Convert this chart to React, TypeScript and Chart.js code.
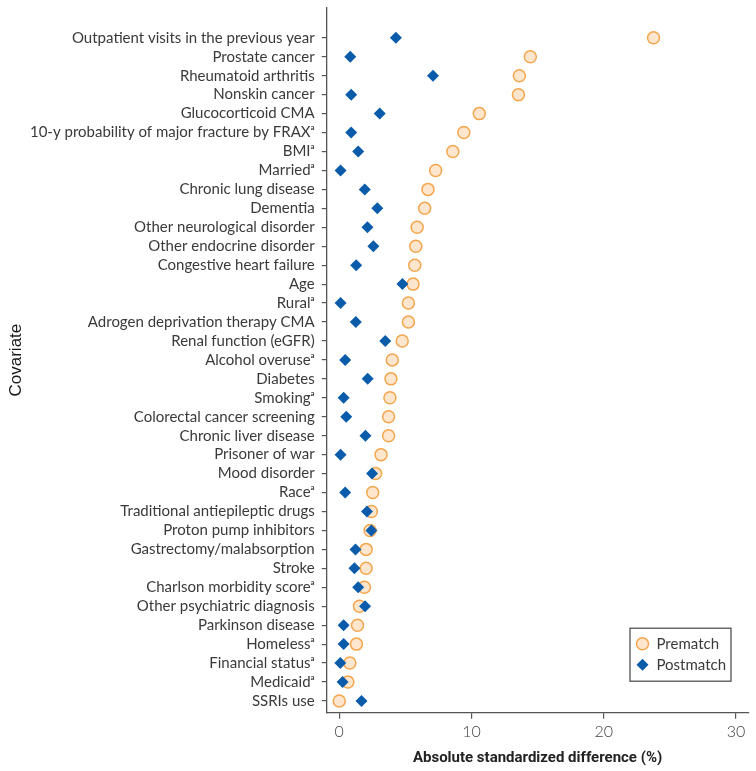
import React, { useEffect, useRef } from 'react';
import { Chart, registerables } from 'chart.js';

Chart.register(...registerables);

const covariates = [
  'Outpatient visits in the previous year',
  'Prostate cancer',
  'Rheumatoid arthritis',
  'Nonskin cancer',
  'Glucocorticoid CMA',
  '10-y probability of major fracture by FRAXᵃ',
  'BMIᵃ',
  'Marriedᵃ',
  'Chronic lung disease',
  'Dementia',
  'Other neurological disorder',
  'Other endocrine disorder',
  'Congestive heart failure',
  'Age',
  'Ruralᵃ',
  'Adrogen deprivation therapy CMA',
  'Renal function (eGFR)',
  'Alcohol overuseᵃ',
  'Diabetes',
  'Smokingᵃ',
  'Colorectal cancer screening',
  'Chronic liver disease',
  'Prisoner of war',
  'Mood disorder',
  'Raceᵃ',
  'Traditional antiepileptic drugs',
  'Proton pump inhibitors',
  'Gastrectomy/malabsorption',
  'Stroke',
  'Charlson morbidity scoreᵃ',
  'Other psychiatric diagnosis',
  'Parkinson disease',
  'Homelessᵃ',
  'Financial statusᵃ',
  'Medicaidᵃ',
  'SSRIs use',
];

const prematch = [
  23.77, 14.45, 13.62, 13.55, 10.59, 9.42, 8.59, 7.29, 6.71, 6.46, 5.89, 5.79,
  5.71, 5.58, 5.23, 5.23, 4.76, 4.01, 3.91, 3.83, 3.73, 3.73, 3.16, 2.75, 2.53,
  2.43, 2.33, 2.03, 2.03, 1.9, 1.53, 1.38, 1.3, 0.8, 0.65, 0.0,
];

const postmatch = [
  4.28, 0.83, 7.09, 0.9, 3.06, 0.9, 1.43, 0.1, 1.93, 2.88, 2.13, 2.58, 1.28,
  4.78, 0.1, 1.25, 3.48, 0.45, 2.15, 0.33, 0.53, 1.98, 0.1, 2.48, 0.45, 2.1,
  2.43, 1.23, 1.15, 1.43, 1.95, 0.33, 0.33, 0.08, 0.25, 1.68,
];

const xTickValues = [0, 10, 20, 30];
const seriesNames = ['Prematch', 'Postmatch'];

const PRE_FILL = '#fde6cd';
const PRE_BORDER = '#f5a64d';
const POST_COLOR = '#0a5caa';
const LABEL_FONT = 'Lato, "Open Sans", sans-serif';

export default function App() {
  const ref = useRef<HTMLCanvasElement>(null);

  useEffect(() => {
    document.body.style.margin = '0';
    const canvas = ref.current;
    if (!canvas) return;

    const legendBox = {
      id: 'legendBox',
      afterDraw(chart: any) {
        const { ctx, chartArea } = chart;
        const w = 101;
        const h = 53;
        const x = chartArea.right - 18 - w;
        const y = chartArea.bottom - 32 - h;
        ctx.save();
        ctx.strokeStyle = '#444';
        ctx.lineWidth = 1.2;
        ctx.strokeRect(x + 0.5, y + 0.5, w, h);
        const mx = x + 13;
        const y1 = y + 16;
        const y2 = y + 37;
        ctx.beginPath();
        ctx.arc(mx, y1, 6, 0, Math.PI * 2);
        ctx.fillStyle = PRE_FILL;
        ctx.fill();
        ctx.lineWidth = 1.5;
        ctx.strokeStyle = PRE_BORDER;
        ctx.stroke();
        const r = 6;
        ctx.beginPath();
        ctx.moveTo(mx, y2 - r);
        ctx.lineTo(mx + r, y2);
        ctx.lineTo(mx, y2 + r);
        ctx.lineTo(mx - r, y2);
        ctx.closePath();
        ctx.fillStyle = POST_COLOR;
        ctx.fill();
        ctx.fillStyle = '#3a3a3a';
        ctx.font = `15px ${LABEL_FONT}`;
        ctx.textBaseline = 'middle';
        ctx.textAlign = 'left';
        ctx.fillText(seriesNames[0], x + 27, y1);
        ctx.fillText(seriesNames[1], x + 27, y2);
        ctx.restore();
      },
    };

    const chart = new Chart(canvas, {
      type: 'scatter',
      data: {
        datasets: [
          {
            label: seriesNames[0],
            data: prematch.map((v, i) => ({ x: v, y: i })),
            pointStyle: 'circle',
            pointRadius: 6,
            pointHoverRadius: 6,
            backgroundColor: PRE_FILL,
            borderColor: PRE_BORDER,
            borderWidth: 1.5,
            order: 1,
          },
          {
            label: seriesNames[1],
            data: postmatch.map((v, i) => ({ x: v, y: i })),
            pointStyle: 'rectRot',
            pointRadius: 6,
            pointHoverRadius: 6,
            backgroundColor: POST_COLOR,
            borderColor: POST_COLOR,
            borderWidth: 0,
            order: 0,
          },
        ],
      },
      options: {
        animation: false,
        responsive: false,
        maintainAspectRatio: false,
        layout: { padding: { top: 5, right: 4, left: 0, bottom: 0 } },
        plugins: {
          legend: { display: false },
          tooltip: { enabled: false },
        },
        scales: {
          x: {
            type: 'linear',
            min: -0.95,
            max: 30.95,
            afterBuildTicks: (scale: any) => {
              scale.ticks = xTickValues.map((v) => ({ value: v }));
            },
            afterFit: (scale: any) => {
              scale.height = 58.3;
              scale.paddingLeft = 0;
              scale.paddingRight = 0;
            },
            border: { display: true, color: '#555', width: 1.3 },
            grid: {
              display: true,
              drawOnChartArea: false,
              drawTicks: true,
              tickLength: 6,
              color: '#555',
              lineWidth: 1.2,
            },
            ticks: {
              color: '#444',
              padding: 4,
              font: { family: LABEL_FONT, size: 16, weight: '300' as any },
              maxRotation: 0,
            },
            title: {
              display: true,
              text: 'Absolute standardized difference (%)',
              color: '#222',
              font: { family: 'Roboto, "DejaVu Sans", sans-serif', size: 15, weight: 'bold' as any },
              padding: { top: 0, bottom: 4 },
            },
          },
          y: {
            type: 'linear',
            reverse: true,
            min: -1.6,
            max: 35.62,
            afterBuildTicks: (scale: any) => {
              scale.ticks = covariates.map((_, i) => ({ value: i }));
            },
            afterFit: (scale: any) => {
              scale.width = 326.7;
              scale.paddingTop = 0;
              scale.paddingBottom = 0;
            },
            border: { display: true, color: '#555', width: 1.3 },
            grid: {
              display: true,
              drawOnChartArea: false,
              drawTicks: true,
              tickLength: 5,
              color: '#555',
              lineWidth: 1.2,
            },
            ticks: {
              autoSkip: false,
              color: '#3a3a3a',
              padding: 7,
              font: { family: LABEL_FONT, size: 15 },
              callback: (v: any) => covariates[Math.round(Number(v))] ?? '',
            },
            title: {
              display: true,
              text: 'Covariate',
              color: '#1a1a1a',
              font: { family: '"Liberation Sans", Arial, sans-serif', size: 17 },
              padding: { top: 6, bottom: 0 },
            },
          },
        },
      },
      plugins: [legendBox],
    });

    return () => chart.destroy();
  }, []);

  return (
    <canvas ref={ref} width={756} height={771} style={{ display: 'block', width: 756, height: 771 }} />
  );
}
